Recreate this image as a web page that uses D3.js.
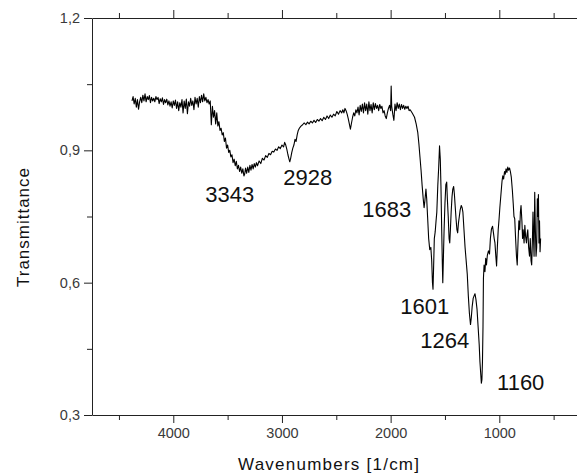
<!DOCTYPE html>
<html lang="en">
<head>
    <meta charset="UTF-8">
    <title>IR Spectrum</title>
    <style>
        body { margin: 0; background: #fff; }
        svg { display: block; }
        .tick text { font-family: "Liberation Sans", Arial, sans-serif; fill: #3a3a3a; }
        .domain, .tick line { stroke: #222; }
    </style>
</head>
<body>
    <div id="chart"></div>
    <script src="https://d3js.org/d3.v7.min.js"></script>
    <script>
        // Spectrum (wavenumber in 1/cm, transmittance)
        const wavenumbers = [
            4380, 4370, 4360, 4350, 4340, 4330, 4320, 4310, 4300, 4290, 4280, 4270, 4260, 4250, 4240, 4230, 4220, 4210, 4200, 4190,
            4180, 4170, 4160, 4150, 4140, 4130, 4120, 4110, 4100, 4090, 4080, 4070, 4060, 4050, 4040, 4030, 4020, 4010, 4000, 3990,
            3980, 3970, 3960, 3950, 3940, 3930, 3920, 3910, 3900, 3890, 3880, 3870, 3860, 3850, 3840, 3830, 3820, 3810, 3800, 3790,
            3780, 3770, 3760, 3750, 3740, 3730, 3720, 3710, 3700, 3690, 3680, 3670, 3660, 3650, 3640, 3630, 3620, 3610, 3600, 3590,
            3580, 3570, 3560, 3550, 3540, 3530, 3520, 3510, 3500, 3490, 3480, 3470, 3460, 3450, 3440, 3430, 3420, 3410, 3400, 3390,
            3380, 3370, 3360, 3350, 3343, 3335, 3325, 3315, 3305, 3295, 3285, 3275, 3265, 3255, 3245, 3235, 3225, 3210, 3195, 3180,
            3165, 3150, 3135, 3120, 3105, 3090, 3075, 3060, 3045, 3030, 3015, 3000, 2985, 2975, 2965, 2955, 2945, 2935, 2928, 2920,
            2910, 2900, 2890, 2880, 2870, 2860, 2850, 2840, 2825, 2810, 2795, 2780, 2765, 2750, 2735, 2720, 2705, 2690, 2675, 2660,
            2645, 2630, 2615, 2600, 2585, 2570, 2555, 2540, 2525, 2510, 2495, 2480, 2465, 2450, 2440, 2430, 2420, 2410, 2400, 2390,
            2380, 2370, 2360, 2350, 2340, 2330, 2320, 2310, 2300, 2290, 2280, 2270, 2260, 2250, 2240, 2230, 2220, 2210, 2200, 2190,
            2180, 2170, 2160, 2150, 2140, 2130, 2120, 2110, 2100, 2090, 2080, 2070, 2060, 2050, 2040, 2030, 2020, 2010, 2000, 1995,
            1990, 1980, 1970, 1960, 1950, 1940, 1930, 1920, 1910, 1900, 1890, 1880, 1870, 1860, 1850, 1840, 1830, 1820, 1800, 1780,
            1765, 1750, 1740, 1730, 1720, 1710, 1700, 1692, 1685, 1675, 1668, 1660, 1650, 1640, 1630, 1622, 1615, 1610, 1604, 1598,
            1590, 1582, 1575, 1566, 1558, 1550, 1543, 1537, 1530, 1524, 1520, 1514, 1508, 1500, 1492, 1484, 1478, 1470, 1462, 1456,
            1450, 1443, 1435, 1428, 1420, 1413, 1405, 1398, 1390, 1383, 1376, 1368, 1360, 1350, 1342, 1335, 1325, 1315, 1305, 1295,
            1285, 1275, 1265, 1258, 1250, 1240, 1232, 1224, 1215, 1205, 1195, 1185, 1178, 1170, 1165, 1160, 1155, 1150, 1146, 1140,
            1132, 1125, 1118, 1110, 1100, 1090, 1082, 1072, 1062, 1055, 1047, 1040, 1032, 1025, 1018, 1010, 1002, 995, 985, 975,
            968, 960, 952, 945, 938, 930, 922, 915, 906, 898, 890, 880, 872, 865, 858, 850, 842, 835, 828, 820,
            812, 806, 800, 792, 786, 780, 772, 765, 758, 750, 744, 738, 730, 722, 715, 708, 702, 695, 690, 685,
            680, 674, 668, 662, 656, 650, 645, 640, 635, 630, 625, 620
        ];
        const transmittance = [
            1.012, 1.022, 1.005, 1.018, 0.998, 1.015, 0.993, 1.010, 1.020, 1.008, 1.025, 1.012, 1.028, 1.010, 1.022, 1.015, 1.024, 1.008, 1.020, 1.012,
            1.018, 1.010, 1.022, 1.015, 1.020, 1.006, 1.017, 1.010, 1.019, 1.004, 1.015, 1.008, 1.016, 1.003, 1.012, 1.000, 1.010, 0.996, 1.012, 1.002,
            1.014, 0.995, 1.010, 0.990, 1.008, 0.998, 1.015, 0.985, 1.012, 0.995, 1.016, 0.983, 1.010, 1.000, 1.018, 1.002, 1.012, 0.992, 1.020, 1.005,
            1.018, 0.998, 1.022, 1.008, 1.025, 1.010, 1.028, 1.012, 1.020, 1.008, 1.015, 1.005, 1.012, 0.958, 1.000, 0.975, 0.990, 0.960, 0.985, 0.955,
            0.965, 0.945, 0.950, 0.935, 0.940, 0.920, 0.928, 0.905, 0.912, 0.895, 0.900, 0.885, 0.890, 0.872, 0.880, 0.865, 0.875, 0.858, 0.866, 0.852,
            0.862, 0.848, 0.858, 0.842, 0.846, 0.860, 0.848, 0.862, 0.850, 0.866, 0.855, 0.868, 0.858, 0.870, 0.862, 0.872, 0.865, 0.876, 0.870, 0.882,
            0.878, 0.888, 0.884, 0.893, 0.890, 0.898, 0.896, 0.903, 0.900, 0.908, 0.904, 0.912, 0.908, 0.918, 0.912, 0.902, 0.890, 0.880, 0.874, 0.882,
            0.895, 0.905, 0.912, 0.925, 0.920, 0.935, 0.945, 0.950, 0.955, 0.958, 0.962, 0.958, 0.964, 0.960, 0.966, 0.962, 0.968, 0.963, 0.970, 0.966,
            0.972, 0.967, 0.975, 0.970, 0.978, 0.972, 0.980, 0.975, 0.982, 0.978, 0.988, 0.982, 0.990, 0.985, 0.992, 0.985, 0.995, 0.990, 0.982, 0.972,
            0.960, 0.948, 0.962, 0.975, 0.985, 0.978, 0.992, 0.985, 0.998, 0.980, 1.002, 0.988, 1.005, 0.985, 1.008, 0.990, 1.005, 0.982, 1.010, 0.990,
            1.004, 0.985, 1.008, 0.992, 1.006, 0.995, 1.002, 0.990, 1.004, 0.995, 1.000, 0.985, 0.990, 0.978, 0.972, 0.985, 0.995, 1.002, 0.990, 1.046,
            1.000, 0.982, 0.968, 1.005, 0.990, 1.008, 0.995, 1.005, 0.992, 1.004, 0.995, 1.002, 0.993, 1.000, 0.995, 1.000, 0.990, 0.992, 0.984, 0.975,
            0.960, 0.940, 0.915, 0.885, 0.855, 0.820, 0.790, 0.770, 0.785, 0.812, 0.790, 0.750, 0.700, 0.675, 0.680, 0.650, 0.600, 0.585, 0.640, 0.700,
            0.715, 0.740, 0.760, 0.820, 0.860, 0.910, 0.880, 0.820, 0.720, 0.640, 0.600, 0.660, 0.720, 0.780, 0.822, 0.828, 0.790, 0.750, 0.700, 0.690,
            0.720, 0.760, 0.795, 0.812, 0.818, 0.800, 0.770, 0.745, 0.720, 0.713, 0.735, 0.750, 0.765, 0.775, 0.770, 0.760, 0.720, 0.680, 0.650, 0.620,
            0.570, 0.530, 0.505, 0.520, 0.545, 0.565, 0.570, 0.575, 0.562, 0.540, 0.500, 0.460, 0.420, 0.390, 0.372, 0.380, 0.420, 0.500, 0.610, 0.640,
            0.625, 0.655, 0.640, 0.662, 0.672, 0.665, 0.700, 0.722, 0.728, 0.715, 0.700, 0.690, 0.660, 0.638, 0.680, 0.720, 0.745, 0.770, 0.800, 0.830,
            0.842, 0.835, 0.852, 0.846, 0.858, 0.850, 0.862, 0.855, 0.860, 0.852, 0.840, 0.810, 0.780, 0.750, 0.745, 0.700, 0.660, 0.640, 0.690, 0.740,
            0.720, 0.760, 0.775, 0.740, 0.700, 0.720, 0.690, 0.730, 0.705, 0.690, 0.710, 0.720, 0.680, 0.660, 0.700, 0.650, 0.640, 0.700, 0.760, 0.700,
            0.660, 0.805, 0.720, 0.660, 0.680, 0.790, 0.750, 0.800, 0.690, 0.740, 0.670, 0.700
        ];

        // Tick values
        const xMajorTicks = [4000, 3000, 2000, 1000];
        const xMinorTicks = [4500, 3500, 2500, 1500, 500];
        const yMajorTicks = [0.3, 0.6, 0.9, 1.2];
        const yMinorTicks = [0.45, 0.75, 1.05];

        // Peak labels (text, and where the label sits in data units)
        const peakLabels = ["3343", "2928", "1683", "1601", "1264", "1160"];
        const labelWn = [3480, 2763, 2036, 1686, 1502, 803];
        const labelT = [0.783, 0.822, 0.749, 0.528, 0.453, 0.356];

        const width = 577, height = 475;
        const plotLeft = 92, plotRight = 577, plotTop = 18, plotBottom = 415;

        const svg = d3.select("#chart").append("svg")
            .attr("width", width)
            .attr("height", height);

        const x = d3.scaleLinear().domain([4748, 285]).range([plotLeft, plotRight]);
        const y = d3.scaleLinear().domain([0.3, 1.2]).range([plotBottom, plotTop]);

        const fmt = d => d3.format(".1f")(d).replace(".", ",");

        // bottom axis
        svg.append("g")
            .attr("transform", `translate(0,${plotBottom})`)
            .call(d3.axisBottom(x).tickValues(xMajorTicks).tickSize(8).tickSizeOuter(0).tickPadding(5).tickFormat(d3.format("d")))
            .call(g => g.selectAll("text").style("font-size", "14.5px"));
        svg.append("g")
            .attr("transform", `translate(0,${plotBottom})`)
            .call(d3.axisBottom(x).tickValues(xMinorTicks).tickSize(5).tickFormat(""))
            .call(g => g.select(".domain").remove());

        // top axis (ticks only, outward)
        svg.append("g")
            .attr("transform", `translate(0,${plotTop})`)
            .call(d3.axisTop(x).tickValues(xMajorTicks).tickSize(8).tickSizeOuter(0).tickFormat(""));
        svg.append("g")
            .attr("transform", `translate(0,${plotTop})`)
            .call(d3.axisTop(x).tickValues(xMinorTicks).tickSize(5).tickFormat(""))
            .call(g => g.select(".domain").remove());

        // left axis
        svg.append("g")
            .attr("transform", `translate(${plotLeft},0)`)
            .call(d3.axisLeft(y).tickValues(yMajorTicks).tickSize(8).tickSizeOuter(0).tickPadding(4).tickFormat(fmt))
            .call(g => g.selectAll("text").style("font-size", "14.5px"));
        svg.append("g")
            .attr("transform", `translate(${plotLeft},0)`)
            .call(d3.axisLeft(y).tickValues(yMinorTicks).tickSize(5).tickFormat(""))
            .call(g => g.select(".domain").remove());

        // spectrum
        const points = wavenumbers.map((w, i) => [w, transmittance[i]]);
        svg.append("path")
            .datum(points)
            .attr("fill", "none")
            .attr("stroke", "#000")
            .attr("stroke-width", 1.1)
            .attr("stroke-linejoin", "round")
            .attr("d", d3.line().x(d => x(d[0])).y(d => y(d[1])));

        // peak labels
        svg.append("g")
            .selectAll("text")
            .data(peakLabels)
            .enter()
            .append("text")
            .attr("x", (d, i) => x(labelWn[i]))
            .attr("y", (d, i) => y(labelT[i]))
            .attr("text-anchor", "middle")
            .style("font-family", "Liberation Sans, Arial, sans-serif")
            .style("font-size", "22px")
            .attr("fill", "#111")
            .text(d => d);

        // axis titles
        svg.append("text")
            .attr("x", (plotLeft + 577) / 2 - 6)
            .attr("y", 470)
            .attr("text-anchor", "middle")
            .attr("textLength", 181)
            .style("font-family", "Liberation Sans, Arial, sans-serif")
            .style("font-size", "17px")
            .attr("fill", "#111")
            .text("Wavenumbers [1/cm]");

        svg.append("text")
            .attr("transform", `translate(29,${(168 + 287) / 2}) rotate(-90)`)
            .attr("text-anchor", "middle")
            .attr("textLength", 119)
            .style("font-family", "Liberation Sans, Arial, sans-serif")
            .style("font-size", "17px")
            .attr("fill", "#111")
            .text("Transmittance");
    </script>
</body>
</html>
